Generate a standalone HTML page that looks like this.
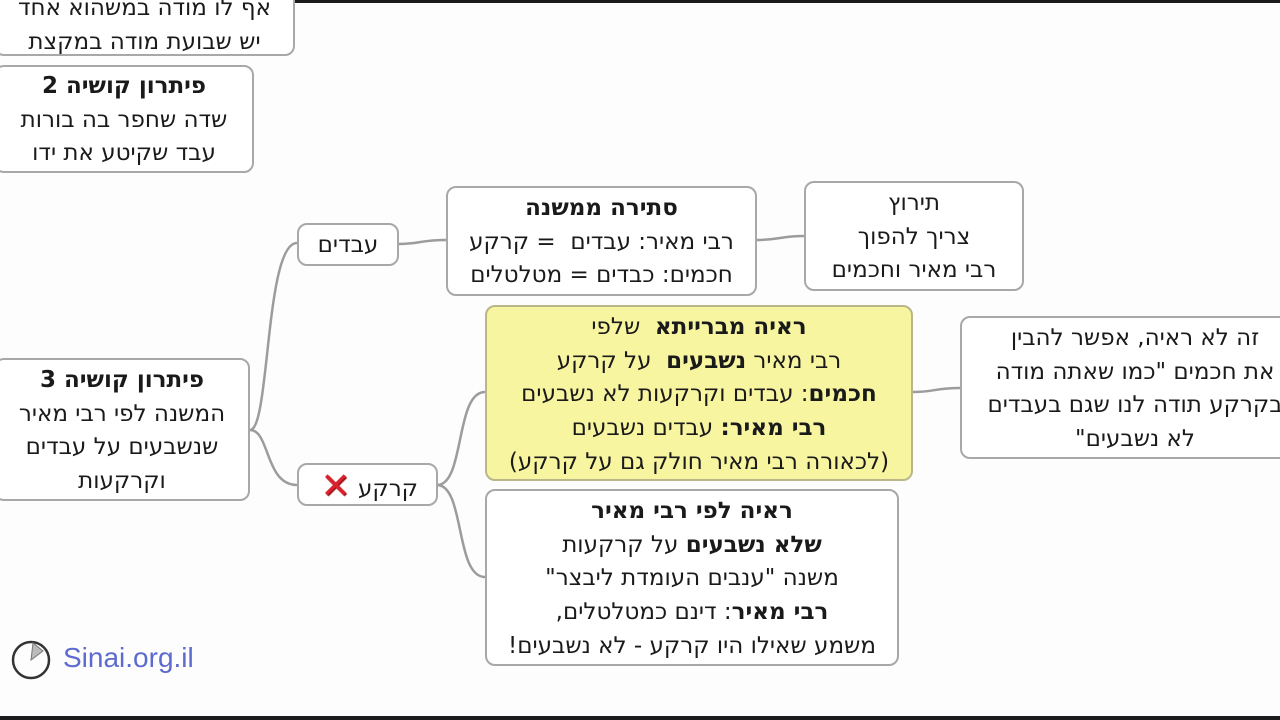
<!DOCTYPE html>
<html><head><meta charset="utf-8"><style>
body{margin:0;width:1280px;height:720px;overflow:hidden;background:#fdfdfd;position:relative;font-family:"DejaVu Sans","Liberation Sans",sans-serif;}
.b{position:absolute;border:2px solid #a8a8a8;border-radius:10px;background:#fff;box-sizing:border-box;direction:rtl;text-align:center;font-size:23px;color:#1a1a1a;line-height:33.7px;white-space:nowrap;overflow:hidden;}
b{font-weight:bold}
.bar{position:absolute;left:0;width:1280px;background:#1c1c1e}
</style></head><body>
<svg width="1280" height="720" style="position:absolute;left:0;top:0" fill="none" stroke="#9c9c9c" stroke-width="2.5">
<path d="M250 430 C270 430,265 243,297 243"/>
<path d="M250 430 C270 430,265 485,297 485"/>
<path d="M398 244 C420 244,420 240,446 240"/>
<path d="M437 485 C465 485,455 392,485 392"/>
<path d="M437 485 C465 485,455 577,485 577"/>
<path d="M756 240 C780 240,780 236,804 236"/>
<path d="M912 392 C935 392,935 388,960 388"/>
</svg>
<div class="bar" style="top:0;height:3px"></div>
<div class="b" style="left:-6px;top:-12px;width:301px;height:68px;padding-top:2px">אף לו מודה במשהוא אחד<br>יש שבועת מודה במקצת</div>
<div class="b" style="left:-6px;top:65px;width:260px;height:108px;padding-top:3px"><b>פיתרון קושיה 2</b><br>שדה שחפר בה בורות<br>עבד שקיטע את ידו</div>
<div class="b" style="left:-6px;top:358px;width:256px;height:143px;padding-top:4px"><b>פיתרון קושיה 3</b><br>המשנה לפי רבי מאיר<br>שנשבעים על עבדים<br>וקרקעות</div>
<div class="b" style="left:297px;top:223px;width:102px;height:43px;line-height:40px">עבדים</div>
<div class="b" style="left:297px;top:463px;width:141px;height:43px;line-height:40px;padding-right:18px;text-align:right">קרקע <span style="color:#d9222d;font-weight:bold;font-size:36px;position:relative;top:2px;text-shadow:1px 1px 1px #800">✕</span></div>
<div class="b" style="left:446px;top:186px;width:311px;height:110px;padding-top:4px"><b>סתירה ממשנה</b><br>רבי מאיר: עבדים &nbsp;= קרקע<br>חכמים: כבדים = מטלטלים</div>
<div class="b" style="left:804px;top:181px;width:220px;height:110px;padding-top:4px">תירוץ<br>צריך להפוך<br>רבי מאיר וחכמים</div>
<div class="b" style="left:485px;top:305px;width:428px;height:176px;padding-top:4px;background:#f8f5a0;border-color:#b9b78a"><b>ראיה מברייתא</b> &nbsp;שלפי<br>רבי מאיר <b>נשבעים</b> &nbsp;על קרקע<br><b>חכמים</b>: עבדים וקרקעות לא נשבעים<br><b>רבי מאיר:</b> עבדים נשבעים<br>(לכאורה רבי מאיר חולק גם על קרקע)</div>
<div class="b" style="left:960px;top:316px;width:360px;height:143px;padding-top:4px;padding-left:0;padding-right:10px">זה לא ראיה, אפשר להבין<br>את חכמים "כמו שאתה מודה<br>בקרקע תודה לנו שגם בעבדים<br>לא נשבעים"</div>
<div class="b" style="left:485px;top:489px;width:414px;height:177px;padding-top:4px"><b>ראיה לפי רבי מאיר</b><br><b>שלא נשבעים</b> על קרקעות<br>משנה "ענבים העומדת ליבצר"<br><b>רבי מאיר</b>: דינם כמטלטלים,<br>משמע שאילו היו קרקע - לא נשבעים!</div>
<svg width="44" height="44" style="position:absolute;left:10px;top:637px">
<circle cx="21" cy="23" r="18" stroke="#333" stroke-width="2.5" fill="none"/>
<path d="M21 23 L23 6 L33 14 Z" fill="#bbb" stroke="#777"/>
</svg>
<div style="position:absolute;left:63px;top:642px;font-family:'Liberation Sans',sans-serif;font-size:28px;color:#5d6ad0">Sinai.org.il</div>
<div class="bar" style="top:716px;height:4px"></div>
</body></html>
